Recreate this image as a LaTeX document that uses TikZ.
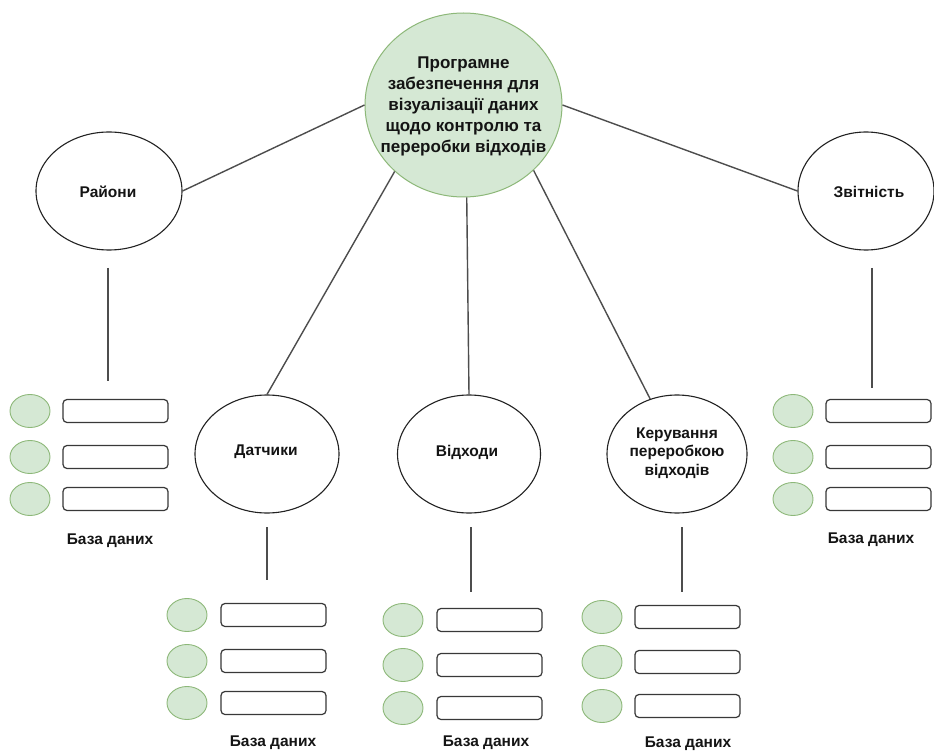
\documentclass[tikz,border=0pt]{standalone}
\usepackage{fontspec}
\setmainfont{Liberation Sans}
\usetikzlibrary{shapes.geometric}
\definecolor{gfill}{HTML}{D5E8D4}
\definecolor{gline}{HTML}{8DB879}
\definecolor{eline}{HTML}{222222}
\definecolor{cline}{HTML}{4D4D4D}
\tikzset{
  ellbox/.style={ellipse, draw=eline, line width=1.1pt, inner sep=0pt, fill=white},
  mainell/.style={ellipse, draw=gline, line width=1pt, fill=gfill, inner sep=0pt},
  lbl/.style={font=\fontsize{15.5}{18.5}\selectfont\bfseries, text=black!92, align=center, inner sep=0pt},
  mainlbl/.style={font=\fontsize{17}{21}\selectfont\bfseries, text=black!92, align=center, inner sep=0pt},
  conn/.style={draw=cline, line width=1.4pt},
  dot/.style={ellipse, draw=gline, line width=0.9pt, fill=gfill, minimum width=40pt, minimum height=33pt, inner sep=0pt},
  fieldbox/.style={rectangle, rounded corners=4pt, draw=eline!90, line width=1.2pt, fill=white, minimum width=105pt, minimum height=23pt, inner sep=0pt},
}
% #1 prefix, #2 circle x, #3 rect x centre, #4,#5,#6 row y, #7 label x, #8 label y
\newcommand{\dbgroup}[8]{%
  \node[dot] (#1c1) at (#2,#4) {};
  \node[dot] (#1c2) at (#2,#5) {};
  \node[dot] (#1c3) at (#2,#6) {};
  \node[fieldbox] (#1r1) at (#3,#4) {};
  \node[fieldbox] (#1r2) at (#3,#5) {};
  \node[fieldbox] (#1r3) at (#3,#6) {};
  \node[lbl] (#1lab) at (#7,#8) {База даних};
}
\begin{document}
\begin{tikzpicture}[x=1pt,y=-1pt]
\useasboundingbox (0,0) rectangle (934,751);
\fill[white] (0,0) rectangle (934,751);

% main node
\node[mainell, minimum width=197pt, minimum height=184pt] (main) at (463.5,105) {};
\node[mainlbl] (maintext) at (463.5,106) {Програмне\\забезпечення для\\візуалізації даних\\щодо контролю та\\переробки відходів};

% second level
\node[ellbox, minimum width=146pt, minimum height=118pt] (rayony) at (109,191) {};
\node[lbl] (rayonyt) at (108,192) {Райони};
\node[ellbox, minimum width=136pt, minimum height=118pt] (zvit) at (866,191) {};
\node[lbl] (zvitt) at (869,192) {Звітність};
\node[ellbox, minimum width=144pt, minimum height=118pt] (datch) at (267,454) {};
\node[lbl] (datcht) at (266,452) {Датчики};
\node[ellbox, minimum width=143pt, minimum height=118pt] (vidh) at (469,454) {};
\node[lbl] (vidht) at (467,452) {Відходи};
\node[ellbox, minimum width=140pt, minimum height=118pt] (ker) at (677,454) {};
\node[lbl] (kert) at (677,453) {Керування\\переробкою\\відходів};

% connectors from main
\draw[conn] (main.west) -- (rayony.east);
\draw[conn] (main.east) -- (zvit.west);
\draw[conn] (main.-136) -- (datch.north);
\draw[conn] (main.-88) -- (vidh.north);
\draw[conn] (main.-43) -- (ker.116);

% vertical stubs
\coordinate (s1a) at (108,268); \coordinate (s1b) at (108,381);
\coordinate (s2a) at (872,268); \coordinate (s2b) at (872,388);
\coordinate (s3a) at (267,527); \coordinate (s3b) at (267,580);
\coordinate (s4a) at (471,527); \coordinate (s4b) at (471,592);
\coordinate (s5a) at (682,527); \coordinate (s5b) at (682,592);
\draw[conn] (s1a) -- (s1b);
\draw[conn] (s2a) -- (s2b);
\draw[conn] (s3a) -- (s3b);
\draw[conn] (s4a) -- (s4b);
\draw[conn] (s5a) -- (s5b);

% database groups
\dbgroup{a}{30}{115.5}{411}{457}{499}{110}{541}
\dbgroup{b}{793}{878.5}{411}{457}{499}{871}{540}
\dbgroup{c}{187}{273.5}{615}{661}{703}{273}{743}
\dbgroup{d}{403}{489.5}{620}{665}{708}{486}{743}
\dbgroup{e}{602}{687.5}{617}{662}{706}{688}{744}
\end{tikzpicture}
\end{document}
